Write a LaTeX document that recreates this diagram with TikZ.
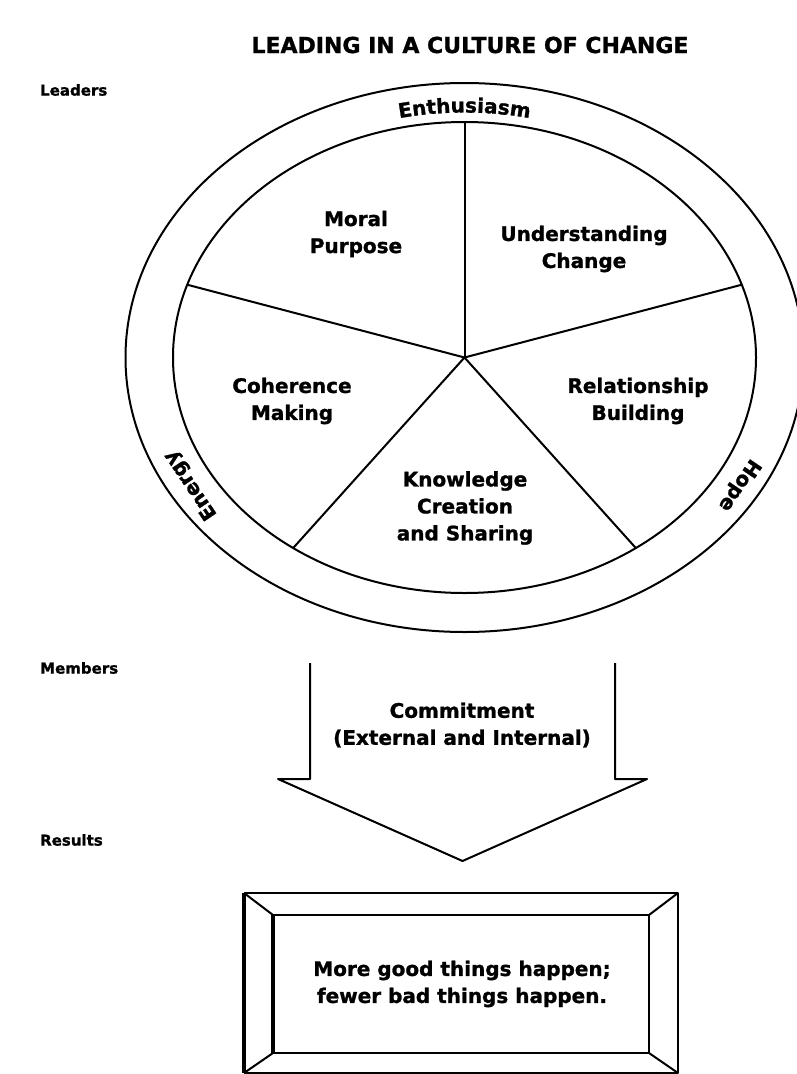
\documentclass[tikz,border=0pt]{standalone}
\usepackage{fontspec}
\setmainfont{DejaVu Sans}[BoldFeatures={FakeBold=1.2}]
\usetikzlibrary{decorations.text}
\newcommand{\dfont}{\fontsize{20}{27}\selectfont\bfseries}
\begin{document}
\begin{tikzpicture}[x=1pt,y=1pt,line join=round,
  lbl/.style={font=\fontsize{20}{27}\selectfont\bfseries, align=center, inner sep=0pt},
  side/.style={font=\fontsize{15}{18}\selectfont\bfseries, anchor=west, inner sep=0pt},
  ln/.style={line width=2pt},
  thick ln/.style={line width=3.2pt},
  arc text/.style={decorate, decoration={text along path, text align=center, text={|\dfont|#1}}}]
\useasboundingbox (0,0) rectangle (796,-1074);
% title and side labels
\node[font=\fontsize{22}{26}\selectfont\bfseries, inner sep=0pt] (title) at (470,-45) {LEADING IN A CULTURE OF CHANGE};
\node[side] (leaders) at (40,-90) {Leaders};
\node[side] (members) at (40,-668) {Members};
\node[side] (results) at (40,-840) {Results};
% wheel
\coordinate (c) at (464.5,-357.5);
\draw[ln] (c) ellipse [x radius=339, y radius=274.5];
\draw[ln] (c) ellipse [x radius=291.5, y radius=235.5];
\foreach \a/\n in {90/p1,162/p2,234/p3,306/p4,18/p5}
  \path (c) ++(\a:291.5pt and 235.5pt) coordinate (\n);
\foreach \n in {p1,p2,p3,p4,p5} \draw[ln] (c) -- (\n);
\path[arc text=Enthusiasm] (c) ++(125:305pt and 245pt) arc[start angle=125, end angle=55, x radius=305pt, y radius=245pt];
\node[lbl, rotate=124] (energy) at (191,-485) {Energy};
\node[lbl, rotate=-124] (hope) at (739,-485) {Hope};
\node[lbl] (mp) at (356,-234) {Moral\\Purpose};
\node[lbl] (uc) at (584,-249) {Understanding\\Change};
\node[lbl] (cm) at (292,-401) {Coherence\\Making};
\node[lbl] (rb) at (638,-401) {Relationship\\Building};
\node[lbl] (kc) at (465,-508) {Knowledge\\Creation\\and Sharing};
% block arrow
\coordinate (a1) at (310,-663);
\coordinate (a2) at (310,-779);
\coordinate (a3) at (278,-779);
\coordinate (tip) at (462.5,-861);
\coordinate (a5) at (647,-779);
\coordinate (a6) at (615,-779);
\coordinate (a7) at (615,-663);
\draw[ln] (a1) -- (a2) -- (a3) -- (tip) -- (a5) -- (a6) -- (a7);
\node[lbl] (commit) at (462,-725) {Commitment\\(External and Internal)};
% results box
\coordinate (o1) at (244,-893);
\coordinate (o2) at (678,-893);
\coordinate (o3) at (678,-1073);
\coordinate (o4) at (244,-1073);
\coordinate (i1) at (273,-915);
\coordinate (i2) at (649,-915);
\coordinate (i3) at (649,-1053);
\coordinate (i4) at (273,-1053);
\draw[ln] (o1) -- (o2) -- (o3) -- (o4);
\draw[ln] (i1) -- (i2) -- (i3) -- (i4);
\draw[thick ln] (o4) -- (o1);
\draw[thick ln] (i4) -- (i1);
\draw[ln] (o1) -- (i1) (o2) -- (i2) (o3) -- (i3) (o4) -- (i4);
\node[lbl] (res) at (462,-984) {More good things happen;\\fewer bad things happen.};
\end{tikzpicture}
\end{document}
